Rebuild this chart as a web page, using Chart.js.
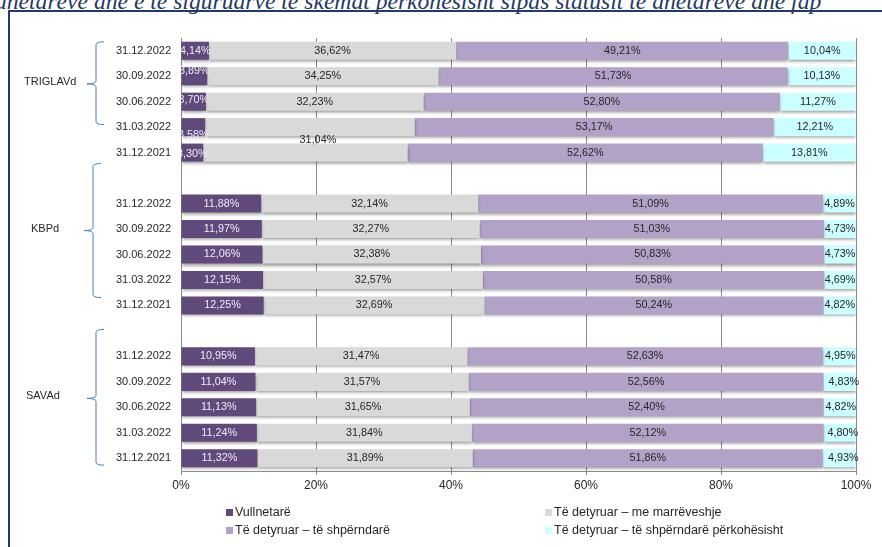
<!DOCTYPE html>
<html lang="sq">
<head>
  <meta charset="UTF-8">
  <title>Struktura e anëtarëve sipas statusit</title>
  <style>
    html, body { margin: 0; padding: 0; background: #fff; }
    body { width: 882px; height: 547px; position: relative; overflow: hidden; font-family: "Liberation Sans", Arial, sans-serif; }
    .title { position: absolute; left: -5px; top: -10px; white-space: nowrap; font-family: "Liberation Serif", serif; font-style: italic; font-size: 23.6px; line-height: 23px; color: #1f3864; }
    .frame { position: absolute; left: 8px; top: 10px; width: 900px; height: 600px; border-left: 2px solid #1f3a6e; border-top: 2px solid #1f3a6e; }
    .chart-box { position: absolute; left: 0; top: 0; width: 882px; height: 547px; }
  </style>
</head>
<body>
  <div class="title">anëtarëve dhe e të siguruarve te skemat përkohësisht sipas statusit të anëtarëve dhe fap</div>
  <div class="frame"></div>
  <div class="chart-box"><canvas id="statusChart" width="882" height="547"></canvas></div>

  <script src="https://cdn.jsdelivr.net/npm/chart.js"></script>
  <script>
    // rows, top to bottom (empty rows separate the funds)
    const categories = [
      '31.12.2022', '30.09.2022', '30.06.2022', '31.03.2022', '31.12.2021', '',
      '31.12.2022', '30.09.2022', '30.06.2022', '31.03.2022', '31.12.2021', '',
      '31.12.2022', '30.09.2022', '30.06.2022', '31.03.2022', '31.12.2021'
    ];
    const groupNames = ['TRIGLAVd', 'KBPd', 'SAVAd'];

    const vullnetare   = [4.14, 3.89, 3.70, 3.58, 3.30, null, 11.88, 11.97, 12.06, 12.15, 12.25, null, 10.95, 11.04, 11.13, 11.24, 11.32];
    const marreveshje  = [36.62, 34.25, 32.23, 31.04, 30.27, null, 32.14, 32.27, 32.38, 32.57, 32.69, null, 31.47, 31.57, 31.65, 31.84, 31.89];
    const shperndare   = [49.21, 51.73, 52.80, 53.17, 52.62, null, 51.09, 51.03, 50.83, 50.58, 50.24, null, 52.63, 52.56, 52.40, 52.12, 51.86];
    const perkohesisht = [10.04, 10.13, 11.27, 12.21, 13.81, null, 4.89, 4.73, 4.73, 4.69, 4.82, null, 4.95, 4.83, 4.82, 4.80, 4.93];

    const seriesNames = [
      'Vullnetarë',
      'Të detyruar – me marrëveshje',
      'Të detyruar – të shpërndarë',
      'Të detyruar – të shpërndarë përkohësisht'
    ];
    const xTickValues = [0, 20, 40, 60, 80, 100];

    const seriesColors = ['#604a7b', '#d9d9d9', '#b3a2c7', '#ccffff'];
    const labelColors = ['#f0ebf7', '#262626', '#262626', '#262626'];
    const font = '"Liberation Sans", Arial, sans-serif';

    // hand-placed labels as in the original (dataset:row -> [dx, dy])
    const labelNudge = {
      '0:1': [0, -5], '0:2': [0, -2], '0:3': [0, 8], '0:4': [0, 1],
      '1:3': [8, 13],
      '3:12': [1, 0], '3:13': [4, 0], '3:14': [1, 0], '3:15': [3, 0], '3:16': [4, 0]
    };
    const hiddenLabels = ['1:4'];

    // braces: row positions (fractional) for top, point, bottom
    const braces = [
      { top: -0.35, mid: 1.3, bottom: 2.9, x: 96, labelX: 24 },
      { top: 4.43, mid: 7.06, bottom: 9.69, x: 93, labelX: 31 },
      { top: 10.94, mid: 13.65, bottom: 16.27, x: 96, labelX: 26 }
    ];

    const fmt = v => v.toFixed(2).replace('.', ',') + '%';

    const barShadow = {
      id: 'barShadow',
      beforeDatasetsDraw(chart) {
        const c = chart.ctx;
        c.save();
        c.shadowColor = 'rgba(0,0,0,0.4)';
        c.shadowBlur = 3;
        c.shadowOffsetY = 2;
      },
      afterDatasetsDraw(chart) { chart.ctx.restore(); }
    };

    const valueLabels = {
      id: 'valueLabels',
      afterDatasetsDraw(chart) {
        const ctx = chart.ctx, a = chart.chartArea;
        ctx.save();
        ctx.beginPath();
        ctx.rect(a.left, 0, chart.width - a.left, chart.height);
        ctx.clip();
        ctx.font = '10.8px ' + font;
        ctx.textAlign = 'center';
        ctx.textBaseline = 'middle';
        chart.data.datasets.forEach((ds, di) => {
          chart.getDatasetMeta(di).data.forEach((el, i) => {
            const v = ds.data[i];
            const key = di + ':' + i;
            if (v == null || hiddenLabels.includes(key)) return;
            const n = labelNudge[key] || [0, 0];
            const p = el.getProps(['x', 'y', 'base'], true);
            ctx.fillStyle = labelColors[di];
            ctx.fillText(fmt(v), (p.x + p.base) / 2 + n[0], p.y + n[1]);
          });
        });
        ctx.restore();
      }
    };

    const groupBraces = {
      id: 'groupBraces',
      afterDraw(chart) {
        const ctx = chart.ctx, ys = chart.scales.y;
        const y0 = ys.getPixelForValue(0);
        const step = ys.getPixelForValue(1) - y0;
        const at = f => y0 + f * step;
        ctx.save();
        braces.forEach((b, gi) => {
          const t = at(b.top), m = at(b.mid), btm = at(b.bottom), x = b.x;
          ctx.strokeStyle = '#4a7ebb';
          ctx.lineWidth = 1;
          ctx.beginPath();
          ctx.moveTo(x + 8, t);
          ctx.quadraticCurveTo(x, t, x, t + 3);
          ctx.lineTo(x, m - 3);
          ctx.quadraticCurveTo(x, m, x - 9, m);
          ctx.quadraticCurveTo(x, m, x, m + 3);
          ctx.lineTo(x, btm - 3);
          ctx.quadraticCurveTo(x, btm, x + 8, btm);
          ctx.stroke();
          ctx.fillStyle = '#262626';
          ctx.font = '11px ' + font;
          ctx.textAlign = 'left';
          ctx.textBaseline = 'middle';
          ctx.fillText(groupNames[gi], b.labelX, m - 2);
        });
        ctx.restore();
      }
    };

    const gridLegend = {
      id: 'gridLegend',
      afterDraw(chart) {
        const ctx = chart.ctx;
        const cols = [226, 545], rows = [513, 531];
        ctx.save();
        ctx.font = '12.5px ' + font;
        ctx.textAlign = 'left';
        ctx.textBaseline = 'middle';
        chart.data.datasets.forEach((ds, i) => {
          const x = cols[i % 2], y = rows[Math.floor(i / 2)];
          ctx.fillStyle = ds.backgroundColor;
          ctx.fillRect(x, y - 4, 7, 7);
          ctx.fillStyle = '#262626';
          ctx.fillText(ds.label, x + 9, y);
        });
        ctx.restore();
      }
    };

    const seriesData = [vullnetare, marreveshje, shperndare, perkohesisht];

    new Chart(document.getElementById('statusChart'), {
      type: 'bar',
      data: {
        labels: categories,
        datasets: seriesData.map((d, i) => ({
          label: seriesNames[i],
          data: d,
          backgroundColor: seriesColors[i],
          borderWidth: 0,
          barPercentage: 0.71,
          categoryPercentage: 1
        }))
      },
      options: {
        indexAxis: 'y',
        responsive: false,
        animation: false,
        layout: { padding: { left: 0, top: 38, right: 26, bottom: 46 } },
        plugins: {
          legend: { display: false },
          tooltip: { enabled: false }
        },
        scales: {
          x: {
            stacked: true,
            min: 0,
            max: 100,
            afterBuildTicks: s => { s.ticks = xTickValues.map(v => ({ value: v })); },
            afterFit: s => { s.height = 30; },
            ticks: { callback: v => v + '%', color: '#262626', font: { family: font, size: 12 }, padding: 3, maxRotation: 0 },
            grid: { color: '#8a8a8a', tickLength: 4 },
            border: { color: '#8a8a8a' }
          },
          y: {
            stacked: true,
            afterFit: s => { s.width = 181; },
            ticks: { color: '#262626', font: { family: font, size: 11 }, padding: 10, autoSkip: false },
            grid: { display: false, drawTicks: false },
            border: { color: '#8a8a8a' }
          }
        }
      },
      plugins: [barShadow, valueLabels, groupBraces, gridLegend]
    });
  </script>
</body>
</html>
